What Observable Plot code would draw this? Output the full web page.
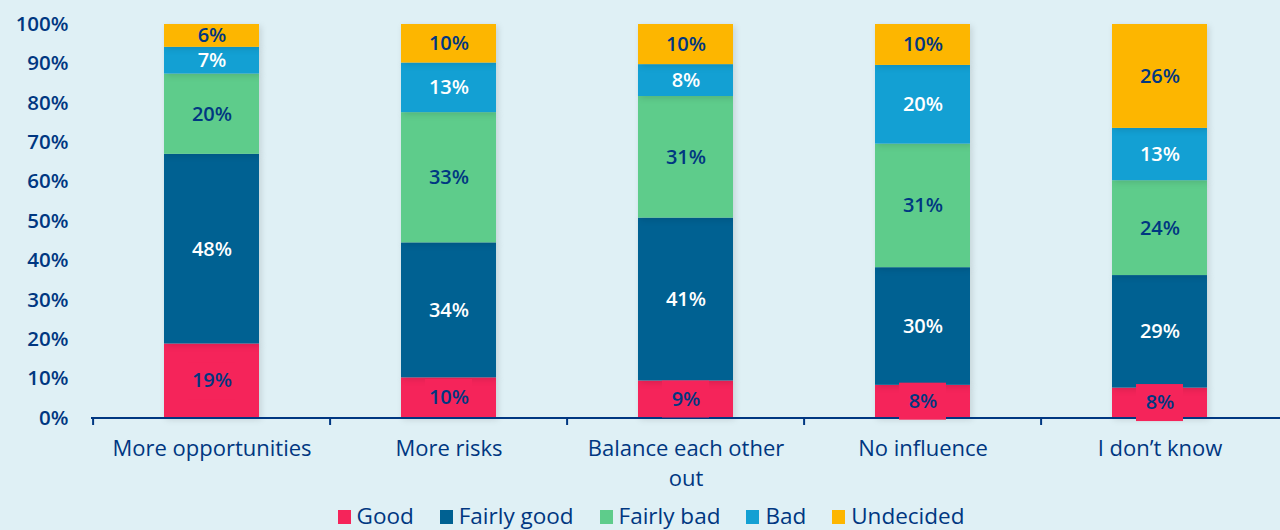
<!DOCTYPE html>
<html>
<head>
<meta charset="utf-8">
<script src="https://cdn.jsdelivr.net/npm/d3@7"></script>
<script src="https://cdn.jsdelivr.net/npm/@observablehq/plot@0.6"></script>
<style>
  html, body { margin: 0; padding: 0; background: #dff0f5; }
  #wrap { width: 1280px; height: 530px; background: #dff0f5; font-family: "Open Sans", Lato, sans-serif; }
  #chart svg g[aria-label="bar"]:first-of-type rect { filter: drop-shadow(2px 2px 3px rgba(0,0,0,0.12)); }
  #legend { display: flex; justify-content: center; align-items: center; gap: 26px; height: 30px; padding-left: 22px; color: #003781; font-size: 22.5px; }
  #legend .item { display: flex; align-items: center; }
  #legend .sw { width: 13px; height: 14px; margin-right: 6px; margin-top: 3px; }
</style>
</head>
<body>
<div id="wrap">
  <div id="chart"></div>
  <div id="legend"></div>
</div>
<script>
const categories = ["More opportunities", "More risks", "Balance each other out", "No influence", "I don’t know"];
const series = ["Good", "Fairly good", "Fairly bad", "Bad", "Undecided"];
const good       = [18.8, 10.2,  9.4,  8.3,  7.6];
const fairlyGood = [48.2, 34.3, 41.4, 29.9, 28.6];
const fairlyBad  = [20.4, 33.1, 30.9, 31.4, 24.1];
const bad        = [ 6.8, 12.6,  8.1, 20.0, 13.3];
const undecided  = [ 5.8,  9.8, 10.2, 10.4, 26.4];
const yTicks = [0, 10, 20, 30, 40, 50, 60, 70, 80, 90, 100];

const colors = ["#f5245a", "#006192", "#5ecc8b", "#13a0d3", "#fdb600"];
const darkText = "#003781";
const lightSeries = ["Fairly good", "Bad"];

const valuesBySeries = [good, fairlyGood, fairlyBad, bad, undecided];
const rows = [];
categories.forEach((c, i) => {
  let acc = 0;
  series.forEach((s, j) => {
    const v = valuesBySeries[j][i];
    rows.push({category: c, series: s, value: v, y1: acc, y2: acc + v});
    acc += v;
  });
});
const goodRows = rows.filter(d => d.series === "Good");

const plot = Plot.plot({
  width: 1280,
  height: 500,
  marginTop: 24,
  marginBottom: 82.5,
  marginLeft: 91,
  marginRight: 0,
  style: {fontFamily: "'Open Sans', Lato, sans-serif", background: "transparent", color: darkText},
  x: {domain: categories, paddingInner: 0.6, paddingOuter: 0.3},
  y: {domain: [0, 100]},
  color: {domain: series, range: colors},
  marks: [
    Plot.barY(rows, {x: "category", y1: "y1", y2: "y2", fill: "series"}),
    Plot.ruleY([0], {stroke: darkText, strokeWidth: 2}),
    Plot.ruleX(categories, {x: d => d, y1: 0, y2: -1.9, dx: -118.9, stroke: darkText, strokeWidth: 2}),
    Plot.barY(goodRows, {x: "category", y1: d => d.y2 / 2 - 4.7, y2: d => d.y2 / 2 + 4.7, fill: colors[0], insetLeft: 24, insetRight: 24}),
    Plot.text(rows.filter(d => !lightSeries.includes(d.series)), {
      x: "category", y: d => (d.y1 + d.y2) / 2, text: d => Math.round(d.value) + "%",
      fill: darkText, fontSize: 20, fontWeight: 600
    }),
    Plot.text(rows.filter(d => lightSeries.includes(d.series)), {
      x: "category", y: d => (d.y1 + d.y2) / 2, text: d => Math.round(d.value) + "%",
      fill: "white", fontSize: 20, fontWeight: 600
    }),
    Plot.axisY({ticks: yTicks, tickFormat: d => d + "%", tickSize: 0, tickPadding: 23, fontSize: 20.5, fontWeight: 600, fill: darkText, label: null}),
    Plot.axisX({tickSize: 0, tickPadding: 17, fontSize: 22, fill: darkText, label: null, lineHeight: 1.36,
      tickFormat: d => d === "Balance each other out" ? "Balance each other\nout" : d})
  ]
});
document.getElementById("chart").appendChild(plot);

const legend = document.getElementById("legend");
series.forEach((s, j) => {
  const item = document.createElement("div");
  item.className = "item";
  const sw = document.createElement("span");
  sw.className = "sw";
  sw.style.background = colors[j];
  const t = document.createElement("span");
  t.textContent = s;
  item.appendChild(sw);
  item.appendChild(t);
  legend.appendChild(item);
});
</script>
</body>
</html>
